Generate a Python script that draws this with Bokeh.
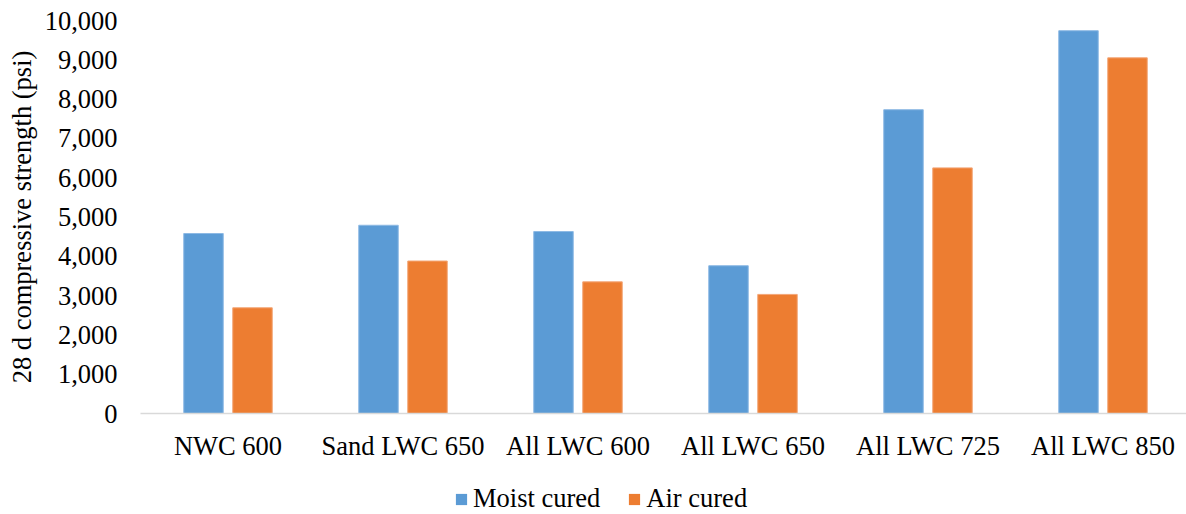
import numpy as np
from bokeh.plotting import figure
from bokeh.layouts import column
from bokeh.models import (Range1d, FixedTicker, NumeralTickFormatter, Legend,
                          LegendItem, ColumnDataSource)
from bokeh.embed import file_html
from bokeh.resources import INLINE

categories = ["NWC 600", "Sand LWC 650", "All LWC 600", "All LWC 650",
              "All LWC 725", "All LWC 850"]
moist_cured = [4580, 4790, 4630, 3760, 7730, 9740]
air_cured = [2690, 3880, 3350, 3030, 6250, 9050]
y_ticks = list(range(0, 10001, 1000))
series_names = ["Moist cured", "Air cured"]

FONT = "Liberation Serif"
FS = "26.5px"
BLUE = "#5B9BD5"
ORANGE = "#ED7D31"
BLUE_EDGE = "#8DB9E4"
ORANGE_EDGE = "#F3A677"

centers = [i + 0.5 for i in range(len(categories))]
bar_w = 0.2257
off = 0.14

src = ColumnDataSource(dict(
    x_m=[c - off for c in centers],
    x_a=[c + off for c in centers],
    moist=moist_cured,
    air=air_cured,
))

p = figure(width=1186, height=470, output_backend="svg", toolbar_location=None,
           x_range=Range1d(0, 1046 / 175), y_range=Range1d(0, 10000),
           min_border_left=140, min_border_right=0, min_border_top=20,
           min_border_bottom=57)
p.outline_line_color = None
p.xgrid.visible = False
p.ygrid.visible = False

p.vbar(x="x_m", top="moist", width=bar_w, source=src, fill_color=BLUE,
       line_color=BLUE_EDGE, line_width=1)
p.vbar(x="x_a", top="air", width=bar_w, source=src, fill_color=ORANGE,
       line_color=ORANGE_EDGE, line_width=1)

# y axis
p.yaxis.ticker = FixedTicker(ticks=y_ticks)
p.yaxis.formatter = NumeralTickFormatter(format="0,0")
p.yaxis.axis_line_color = None
p.yaxis.major_tick_line_color = None
p.yaxis.minor_tick_line_color = None
p.yaxis.major_tick_out = 0
p.yaxis.major_tick_in = 0
p.yaxis.major_label_standoff = 23
p.yaxis.major_label_text_font = FONT
p.yaxis.major_label_text_font_size = FS
p.yaxis.major_label_text_color = "black"
p.yaxis.axis_label = "28 d compressive strength (psi)"
p.yaxis.axis_label_text_font = FONT
p.yaxis.axis_label_text_font_size = FS
p.yaxis.axis_label_text_font_style = "normal"
p.yaxis.axis_label_text_color = "black"
p.yaxis.axis_label_standoff = 5

# x axis
p.xaxis.ticker = FixedTicker(ticks=centers)
p.xaxis.major_label_overrides = {c: name for c, name in zip(centers, categories)}
p.xaxis.axis_line_color = "#D9D9D9"
p.xaxis.axis_line_width = 1.5
p.xaxis.major_tick_line_color = None
p.xaxis.minor_tick_line_color = None
p.xaxis.major_tick_out = 0
p.xaxis.major_tick_in = 0
p.xaxis.major_label_standoff = 17
p.xaxis.major_label_text_font = FONT
p.xaxis.major_label_text_font_size = FS
p.xaxis.major_label_text_color = "black"

# legend strip (its frame is aligned with the main frame by the column layout)
lg = figure(width=1186, height=44, output_backend="svg", toolbar_location=None,
            x_range=Range1d(0, 1), y_range=Range1d(0, 1),
            min_border=0)
lg.outline_line_color = None
lg.axis.visible = False
lg.grid.visible = False
# swatch-only renderers with no drawable data
nan = np.array([np.nan])
d1 = lg.vbar(x=nan, top=nan, width=0.1, fill_color=BLUE, line_color=None)
d2 = lg.vbar(x=nan, top=nan, width=0.1, fill_color=ORANGE, line_color=None)
legend = Legend(items=[LegendItem(label=series_names[0], renderers=[d1]),
                       LegendItem(label=series_names[1], renderers=[d2])],
                orientation="horizontal", location=(314, 0),
                padding=0, margin=0, spacing=27, label_standoff=5,
                glyph_width=14, glyph_height=14,
                label_text_font=FONT, label_text_font_size=FS,
                label_text_color="black",
                border_line_color=None, background_fill_alpha=0)
lg.add_layout(legend, "center")

layout = column(p, lg, spacing=0)
open("out.html", "w").write(file_html(layout, INLINE))
